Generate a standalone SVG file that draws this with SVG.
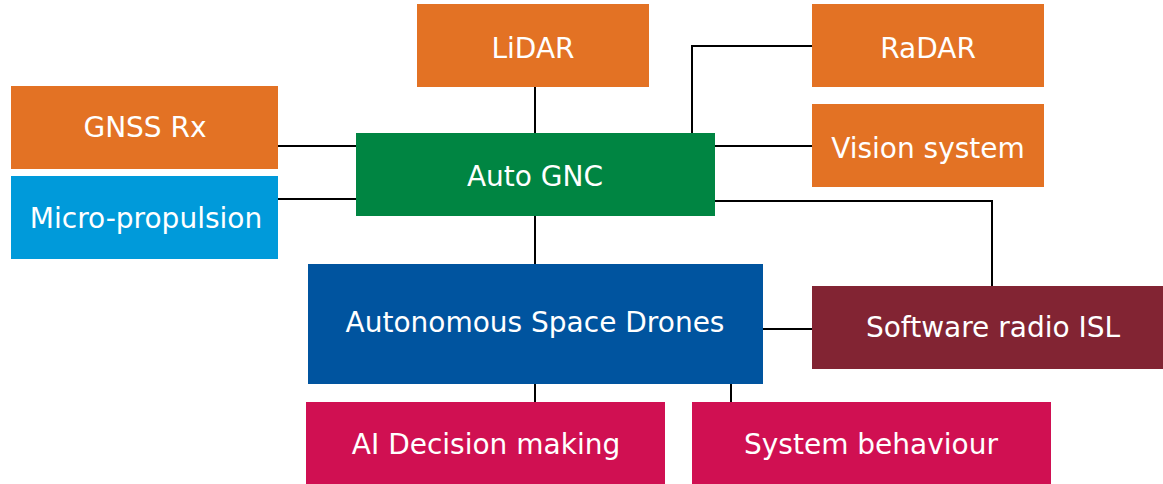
<svg xmlns="http://www.w3.org/2000/svg" width="1163" height="484" viewBox="0 0 1163 484">
<style>
text{font-family:"DejaVu Sans","Liberation Sans",sans-serif;font-size:28px;fill:#ffffff;text-anchor:middle}
.c{fill:none;stroke:#000;stroke-width:2}
.or{fill:#E37224}.gr{fill:#008542}.lb{fill:#009ADA}.db{fill:#00549F}.mr{fill:#822433}.mg{fill:#D01052}
</style>
<rect width="1163" height="484" fill="#fff"/>
<g id="connectors">
<path class="c" d="M535 87V133"/>
<path class="c" d="M812 46H692V133"/>
<path class="c" d="M278 146H356"/>
<path class="c" d="M278 199H356"/>
<path class="c" d="M715 146H812"/>
<path class="c" d="M715 201H992V286"/>
<path class="c" d="M535 216V264"/>
<path class="c" d="M763 329H812"/>
<path class="c" d="M535 384V402"/>
<path class="c" d="M731 384V402"/>
</g>
<g id="lidar"><rect class="or" x="417" y="4" width="232" height="83"/><text x="533" y="58">LiDAR</text></g>
<g id="radar"><rect class="or" x="812" y="4" width="232" height="83"/><text x="928" y="58">RaDAR</text></g>
<g id="gnss"><rect class="or" x="11" y="86" width="267" height="83"/><text x="145" y="137">GNSS Rx</text></g>
<g id="vision"><rect class="or" x="812" y="104" width="232" height="83"/><text x="928" y="158">Vision system</text></g>
<g id="micro"><rect class="lb" x="11" y="176" width="267" height="83"/><text x="146" y="228">Micro-propulsion</text></g>
<g id="autognc"><rect class="gr" x="356" y="133" width="359" height="83"/><text x="535" y="186">Auto GNC</text></g>
<g id="drones"><rect class="db" x="308" y="264" width="455" height="120"/><text x="535" y="332">Autonomous Space Drones</text></g>
<g id="radio"><rect class="mr" x="812" y="286" width="362" height="83"/><text x="993" y="337">Software radio ISL</text></g>
<g id="ai"><rect class="mg" x="306" y="402" width="359" height="84"/><text x="486" y="454">AI Decision making</text></g>
<g id="behaviour"><rect class="mg" x="692" y="402" width="359" height="84"/><text x="871" y="454">System behaviour</text></g>
</svg>
